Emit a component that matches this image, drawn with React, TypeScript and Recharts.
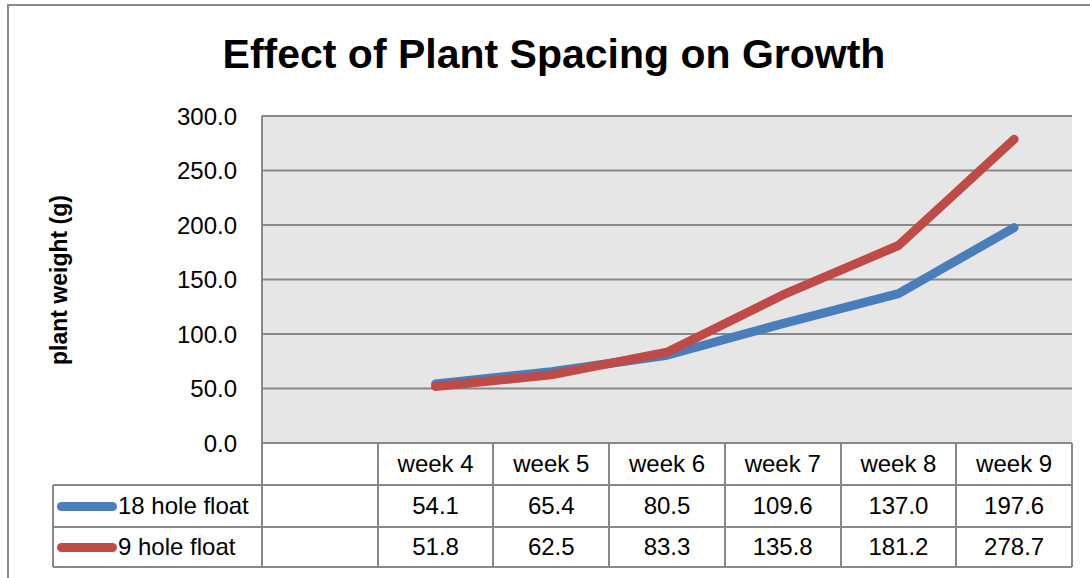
import { LineChart, Line, XAxis, YAxis, CartesianGrid } from 'recharts';

const weeks = ['', 'week 4', 'week 5', 'week 6', 'week 7', 'week 8', 'week 9'];
const float18 = [null, 54.1, 65.4, 80.5, 109.6, 137.0, 197.6];
const float9 = [null, 51.8, 62.5, 83.3, 135.8, 181.2, 278.7];
const yTicks = [0, 50, 100, 150, 200, 250, 300];

const seriesList = [
    { key: 'f18', name: '18 hole float', color: '#4a7ebb', values: float18 },
    { key: 'f9', name: '9 hole float', color: '#be4b48', values: float9 },
];

const W = 1090;
const H = 578;
const PLOT_L = 262;
const PLOT_R = 1072;
const PLOT_T = 116;
const PLOT_B = 443;
const LEGEND_L = 53;
const ROW_Y = [443, 485, 527, 567];
const GRID = '#888888';
const FONT = '"Liberation Sans", Arial, sans-serif';
const FS = 24;

export default function App() {
    const chartData = weeks.map((w, i) => ({
        idx: i,
        week: w,
        f18: float18[i],
        f9: float9[i],
    }));

    const colW = (PLOT_R - PLOT_L) / weeks.length;
    const colX = weeks.map((_, i) => PLOT_L + i * colW).concat([PLOT_R]);

    const hLine = (y: number, x1: number, x2: number, k: string) => (
        <div key={k} style={{ position: 'absolute', left: x1, top: y - 1, width: x2 - x1, height: 2, background: GRID }} />
    );
    const vLine = (x: number, y1: number, y2: number, k: string) => (
        <div key={k} style={{ position: 'absolute', left: x - 1, top: y1, width: 2, height: y2 - y1, background: GRID }} />
    );

    return (
        <div style={{ position: 'absolute', left: 0, top: 0, width: W, height: H, background: '#fff', overflow: 'hidden', fontFamily: FONT }}>
            {/* outer chart border, right/bottom edges fall outside the picture */}
            <div style={{ position: 'absolute', left: 7, top: 4, width: W + 20, height: H + 20, border: `2px solid ${GRID}` }} />

            <div style={{ position: 'absolute', left: 0, width: 1108, top: 31, textAlign: 'center', fontSize: 41, fontWeight: 'bold', color: '#000' }}>
                Effect of Plant Spacing on Growth
            </div>

            <div style={{ position: 'absolute', left: 59, top: 280, transform: 'translate(-50%, -50%) rotate(-90deg)', whiteSpace: 'nowrap', fontSize: 23, fontWeight: 'bold', color: '#000' }}>
                plant weight (g)
            </div>

            <div style={{ position: 'absolute', left: 0, top: 0 }}>
                <LineChart width={W} height={H} data={chartData} margin={{ top: PLOT_T, right: W - PLOT_R, bottom: H - PLOT_B - 42, left: 0 }}>
                    <CartesianGrid vertical={false} stroke={GRID} strokeWidth={2} fill="#e6e6e6" fillOpacity={1} />
                    <XAxis
                        dataKey="idx"
                        type="number"
                        domain={[-0.5, weeks.length - 0.5]}
                        ticks={weeks.map((_, i) => i)}
                        tickFormatter={(i: number) => weeks[i]}
                        height={42}
                        axisLine={false}
                        tickLine={false}
                        tickSize={0}
                        tickMargin={12}
                        tick={{ fontSize: FS, fill: '#000', fontFamily: FONT }}
                        interval={0}
                    />
                    <YAxis
                        domain={[0, 300]}
                        ticks={yTicks}
                        tickFormatter={(v: number) => v.toFixed(1)}
                        width={PLOT_L}
                        axisLine={{ stroke: GRID, strokeWidth: 2 }}
                        tickLine={false}
                        tickSize={0}
                        tickMargin={25}
                        tick={{ fontSize: FS, fill: '#000', fontFamily: FONT }}
                        interval={0}
                    />
                    {seriesList.map(s => (
                        <Line
                            key={s.key}
                            dataKey={s.key}
                            stroke={s.color}
                            strokeWidth={9}
                            strokeLinecap="round"
                            strokeLinejoin="round"
                            dot={false}
                            activeDot={false}
                            type="linear"
                            isAnimationActive={false}
                        />
                    ))}
                </LineChart>
            </div>

            {/* data table under the plot */}
            {hLine(ROW_Y[0], PLOT_L, PLOT_R, 'h0')}
            {ROW_Y.slice(1).map((y, i) => hLine(y, LEGEND_L, PLOT_R, 'h' + (i + 1)))}
            {vLine(LEGEND_L, ROW_Y[1], ROW_Y[3], 'vl')}
            {colX.map((x, i) => vLine(x, ROW_Y[0], ROW_Y[3], 'v' + i))}

            {seriesList.map((s, r) => {
                const top = ROW_Y[r + 1];
                const h = ROW_Y[r + 2] - top;
                return (
                    <div key={s.key}>
                        <div style={{ position: 'absolute', left: LEGEND_L, top, width: PLOT_L - LEGEND_L, height: h, display: 'flex', alignItems: 'center', fontSize: FS, color: '#000', whiteSpace: 'nowrap' }}>
                            <div style={{ width: 60, height: 9, borderRadius: 5, background: s.color, marginLeft: 4, marginRight: 1, flexShrink: 0 }} />
                            <span>{s.name}</span>
                        </div>
                        {s.values.map((v, i) => (
                            <div key={i} style={{ position: 'absolute', left: colX[i], top, width: colW, height: h, display: 'flex', alignItems: 'center', justifyContent: 'center', fontSize: FS, color: '#000' }}>
                                {v == null ? '' : v.toFixed(1)}
                            </div>
                        ))}
                    </div>
                );
            })}
        </div>
    );
}
